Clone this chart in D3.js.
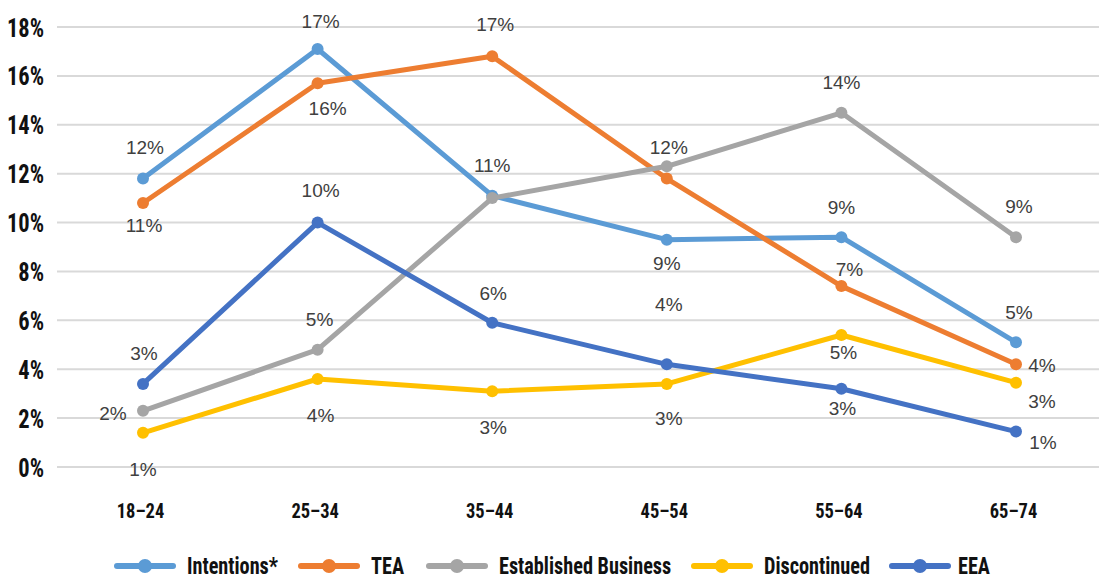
<!DOCTYPE html>
<html>
<head>
<meta charset="utf-8">
<script src="https://cdn.jsdelivr.net/npm/d3@7"></script>
<style>
  html, body { margin: 0; padding: 0; background: #fff; }
  svg { display: block; }
  .cond { font-family: "Liberation Sans Narrow", "Roboto Condensed", Roboto, "Liberation Sans", sans-serif; font-weight: bold; fill: #111; }
  .dlabel { font-family: "Liberation Sans", Arial, sans-serif; font-size: 19px; fill: #404040; }
</style>
</head>
<body>
<svg id="chart" width="1099" height="581"></svg>
<script>
// Age groups along the x axis
const categories = ["18–24", "25–34", "35–44", "45–54", "55–64", "65–74"];

// Series values, in percent
const intentions   = [11.8, 17.1, 11.1, 9.3, 9.4, 5.1];
const tea          = [10.8, 15.7, 16.8, 11.8, 7.4, 4.2];
const established  = [2.3, 4.8, 11.0, 12.3, 14.49, 9.4];
const discontinued = [1.4, 3.6, 3.1, 3.4, 5.4, 3.45];
const eea          = [3.4, 10.0, 5.9, 4.2, 3.2, 1.45];

const seriesNames = ["Intentions*", "TEA", "Established Business", "Discontinued", "EEA"];

// Y axis ticks
const yTicks = [0, 2, 4, 6, 8, 10, 12, 14, 16, 18];

// Styling and label placement (offsets from each point, null = no label)
const colors = ["#5B9BD5", "#ED7D31", "#A5A5A5", "#FFC000", "#4472C4"];
const labelOffsets = [
  [[2, -31], [3, -28], [0, -31], [0, 23], [0, -30], [3, -30]],
  [[1, 22], [10, 25], [3, -32], [2, -31], [8, -17], [26, 1]],
  [[-30, 2], [2, -31], null, null, [0, -31], [3, -31]],
  [[0, 36], [3, 36], [1, 36], [2, 34], [2, 17], [26, 18]],
  [[1, -31], [3, -32], [1, -30], [2, -60], [1, 19], [27, 11]]
];

const seriesValues = [intentions, tea, established, discontinued, eea];
const series = seriesNames.map((name, i) => ({
  name, color: colors[i], values: seriesValues[i], offsets: labelOffsets[i]
}));

const svg = d3.select("#chart");

const x = d3.scalePoint().domain(categories).range([143, 1016]);
const y = d3.scaleLinear().domain([0, 18]).range([467, 27]);

const gridLeft = 57, gridRight = 1099;

// Horizontal gridlines
svg.append("g")
  .selectAll("line")
  .data(yTicks)
  .join("line")
  .attr("x1", gridLeft).attr("x2", gridRight)
  .attr("y1", d => y(d)).attr("y2", d => y(d))
  .attr("stroke", "#D9D9D9").attr("stroke-width", 2);

// Y axis labels (condensed look via horizontal squeeze)
const yAxis = d3.axisLeft(y).tickValues(yTicks).tickFormat(d => d + "%").tickSize(0).tickPadding(0);
const yg = svg.append("g").attr("transform", "translate(44,0)").call(yAxis);
yg.select(".domain").remove();
yg.selectAll("text").attr("class", "cond").attr("font-size", 25).attr("dy", "0.36em")
  .attr("font-family", null).attr("fill", null)
  .attr("transform", "scale(0.9,1)");

// X axis labels
const xAxis = d3.axisBottom(x).tickSize(0).tickPadding(0);
const xg = svg.append("g").attr("transform", "translate(-3,510)").call(xAxis);
xg.select(".domain").remove();
xg.selectAll("text").attr("class", "cond").attr("font-size", 21).attr("dy", "0.36em")
  .attr("font-family", null).attr("fill", null)
  .attr("transform", "scale(0.88,1)");

const line = d3.line().x((d, i) => x(categories[i])).y(d => y(d));

// Lines and markers
const sg = svg.append("g").selectAll("g").data(series).join("g");
sg.append("path")
  .attr("d", d => line(d.values))
  .attr("fill", "none")
  .attr("stroke", d => d.color)
  .attr("stroke-width", 5)
  .attr("stroke-linejoin", "round")
  .attr("stroke-linecap", "round");
sg.selectAll("circle")
  .data(d => d.values.map((v, i) => ({ v, i, color: d.color })))
  .join("circle")
  .attr("cx", d => x(categories[d.i]))
  .attr("cy", d => y(d.v))
  .attr("r", 6)
  .attr("fill", d => d.color);

// Data labels
const fmt = v => Math.round(v) + "%";
const labels = [];
series.forEach(s => s.values.forEach((v, i) => {
  const off = s.offsets[i];
  if (off) labels.push({ v, i, dx: off[0], dy: off[1] });
}));
svg.append("g")
  .selectAll("text")
  .data(labels)
  .join("text")
  .attr("class", "dlabel")
  .attr("x", d => x(categories[d.i]) + d.dx)
  .attr("y", d => y(d.v) + d.dy)
  .attr("dy", "0.36em")
  .attr("text-anchor", "middle")
  .text(d => fmt(d.v));

// Legend
const legendX = [117, 301, 429, 694, 892];
const lg = svg.append("g").attr("transform", "translate(0,566)")
  .selectAll("g").data(series).join("g")
  .attr("transform", (d, i) => `translate(${legendX[i]},0)`);
lg.append("line")
  .attr("x1", 0).attr("x2", 56).attr("y1", 0).attr("y2", 0)
  .attr("stroke", d => d.color).attr("stroke-width", 6).attr("stroke-linecap", "round");
lg.append("circle").attr("cx", 28).attr("cy", 0).attr("r", 7).attr("fill", d => d.color);
lg.append("text")
  .attr("class", "cond")
  .attr("transform", d => `translate(${d.name === "EEA" ? 66 : 70},0) scale(0.88,1)`)
  .attr("dy", "0.36em")
  .attr("font-size", 23)
  .text(d => d.name);
</script>
</body>
</html>
